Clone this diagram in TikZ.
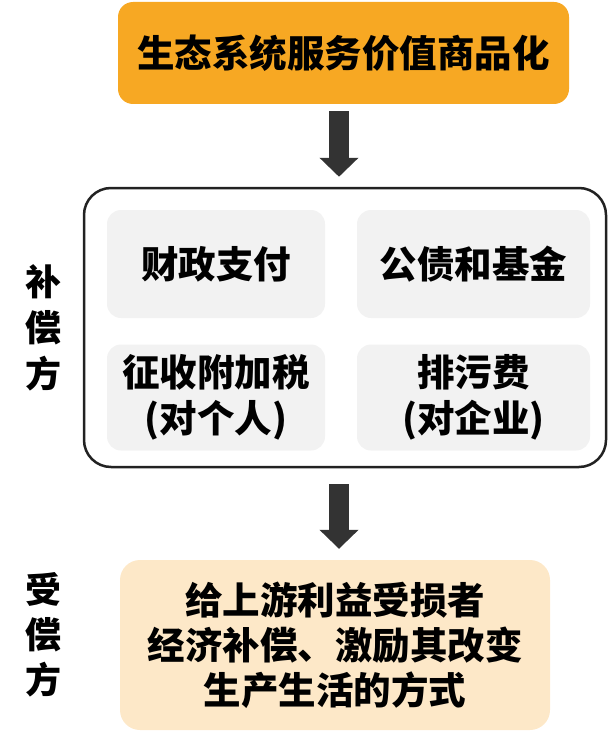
\documentclass[tikz,border=0pt]{standalone}
\usepackage{fontspec}
\setmainfont{Noto Sans CJK SC}[BoldFont={Noto Sans CJK SC Black}]
\usetikzlibrary{arrows.meta}
\definecolor{topfill}{HTML}{F7A823}
\definecolor{cellfill}{HTML}{F2F2F2}
\definecolor{botfill}{HTML}{FDE8C8}
\definecolor{arrowcol}{HTML}{333333}
\definecolor{framecol}{HTML}{222222}
\begin{document}
\begin{tikzpicture}[x=1pt,y=-1pt,
  txt/.style={font=\bfseries\fontsize{37.5}{46}\selectfont, align=center, inner sep=0pt, text=black},
  topbox/.style={txt, fill=topfill, rounded corners=15pt, minimum width=451pt, minimum height=102pt},
  cell/.style={txt, fill=cellfill, rounded corners=14pt},
  botbox/.style={txt, fill=botfill, rounded corners=20pt, minimum width=430pt, minimum height=170pt, font=\bfseries\fontsize{37.5}{45}\selectfont},
  frame/.style={draw=framecol, line width=2.5pt, rounded corners=27pt, minimum width=522pt, minimum height=279pt, inner sep=0pt},
  side/.style={txt, font=\bfseries\fontsize{36}{46}\selectfont},
  bigarrow/.style={draw=arrowcol, line width=20pt, line cap=butt, -{Triangle[width=38pt,length=19pt]}, arrowcol}
]
\useasboundingbox (0,0) rectangle (608,741);

\node[topbox] (top) at (343.5,53) {生态系统服务价值商品化};

\node[frame] (frame) at (345,327.5) {};
\node[cell, minimum width=218pt, minimum height=108pt] (c1) at (216,264) {财政支付};
\node[cell, minimum width=233pt, minimum height=108pt] (c2) at (473.5,264) {公债和基金};
\node[cell, minimum width=218pt, minimum height=106pt] (c3) at (216,397.5) {征收附加税\\(对个人)};
\node[cell, minimum width=233pt, minimum height=106pt] (c4) at (473.5,397.5) {排污费\\(对企业)};

\node[botbox] (bot) at (335,645) {给上游利益受损者\\经济补偿、激励其改变\\生产生活的方式};

\node[side] (payer) at (43,328) {补\\偿\\方};
\node[side, font=\bfseries\fontsize{36}{45}\selectfont] (payee) at (43,635) {受\\偿\\方};

\draw[bigarrow, shorten <=7pt, shorten >=10pt] (top.south -| 339,0) -- (frame.north -| 339,0);
\draw[bigarrow, shorten <=16pt, shorten >=11pt] (frame.south -| 339,0) -- (bot.north -| 339,0);
\end{tikzpicture}
\end{document}
